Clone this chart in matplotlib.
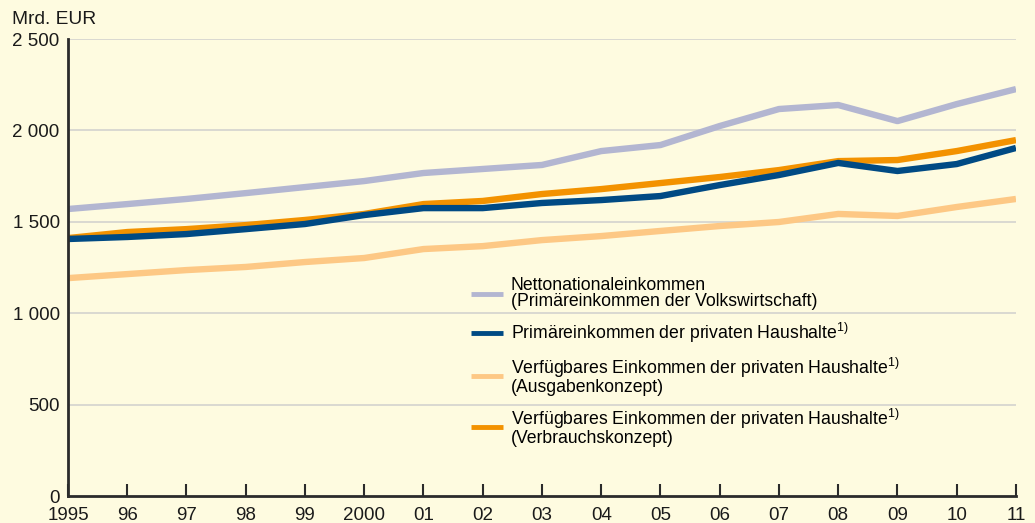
import matplotlib
matplotlib.use("Agg")
import matplotlib.pyplot as plt

# years and series (Mrd. EUR)
years = list(range(1995, 2012))
year_labels = ["1995", "96", "97", "98", "99", "2000", "01", "02", "03",
               "04", "05", "06", "07", "08", "09", "10", "11"]

nettonational = [1570, 1597, 1625, 1657, 1690, 1723, 1767, 1789, 1811,
                 1887, 1920, 2024, 2117, 2139, 2051, 2144, 2226]
primaer_hh = [1406, 1417, 1433, 1460, 1488, 1537, 1575, 1575, 1603,
              1619, 1641, 1701, 1756, 1822, 1778, 1816, 1904]
verf_ausgaben = [1192, 1214, 1236, 1253, 1280, 1302, 1351, 1367, 1400,
                 1422, 1450, 1477, 1499, 1543, 1532, 1581, 1625]
verf_verbrauch = [1411, 1444, 1460, 1482, 1510, 1543, 1597, 1614, 1652,
                  1679, 1712, 1745, 1783, 1832, 1838, 1887, 1947]

y_ticks = [0, 500, 1000, 1500, 2000, 2500]
y_labels = ["0", "500", "1 000", "1 500", "2 000", "2 500"]

bg = "#fefbe0"
plt.rcParams["font.family"] = ["Liberation Sans", "DejaVu Sans"]
plt.rcParams["mathtext.fontset"] = "custom"
plt.rcParams["mathtext.rm"] = "Liberation Sans"
plt.rcParams["mathtext.default"] = "rm"

fig = plt.figure(figsize=(10.35, 5.23), dpi=100, facecolor=bg)
ax = fig.add_axes([0.0657, 0.0516, 0.9159, 0.8738], facecolor=bg)

lw = 4.6
sup = "$^{1)}$"
l_net, = ax.plot(years, nettonational, color="#b3b6d1", lw=lw, solid_capstyle="butt",
                 label="Nettonationaleinkommen\n(Primäreinkommen der Volkswirtschaft)")
l_aus, = ax.plot(years, verf_ausgaben, color="#fdc885", lw=lw, solid_capstyle="butt",
                 label="Verfügbares Einkommen der privaten Haushalte" + sup + "\n(Ausgabenkonzept)")
l_ver, = ax.plot(years, verf_verbrauch, color="#f39200", lw=lw, solid_capstyle="butt",
                 label="Verfügbares Einkommen der privaten Haushalte" + sup + "\n(Verbrauchskonzept)")
l_pri, = ax.plot(years, primaer_hh, color="#004a84", lw=lw, solid_capstyle="butt",
                 label="Primäreinkommen der privaten Haushalte" + sup)

ax.set_xlim(1995, 2011)
ax.set_ylim(0, 2500)

ax.set_yticks(y_ticks)
ax.set_yticklabels(y_labels)
ax.set_xticks(years)
ax.set_xticklabels(year_labels)

for v in y_ticks[1:]:
    ax.axhline(v, color="#d3d3cf", lw=1.2, zorder=0)

for s in ["top", "right"]:
    ax.spines[s].set_visible(False)
for s in ["left", "bottom"]:
    ax.spines[s].set_color("#2b2b2b")
    ax.spines[s].set_linewidth(2)

ax.tick_params(axis="y", length=0, pad=6, labelsize=13.5, colors="#1a1a1a")
ax.tick_params(axis="x", direction="in", length=9, width=1.5, pad=8,
               labelsize=13.5, colors="#1a1a1a", color="#2b2b2b")

fig.text(0.012, 0.962, "Mrd. EUR", fontsize=13.8, color="#1a1a1a", va="center")

leg = ax.legend(handles=[l_net, l_pri, l_aus, l_ver], frameon=False,
                loc="upper left", bbox_to_anchor=(0.418, 0.495),
                fontsize=12.7, handlelength=1.8, handletextpad=0.45,
                labelspacing=0.6, borderaxespad=0)
for h in leg.get_lines():
    h.set_linewidth(3.5)
for t in leg.get_texts():
    t.set_linespacing(0.95)

fig.savefig("out.png", dpi=100, facecolor=bg)
